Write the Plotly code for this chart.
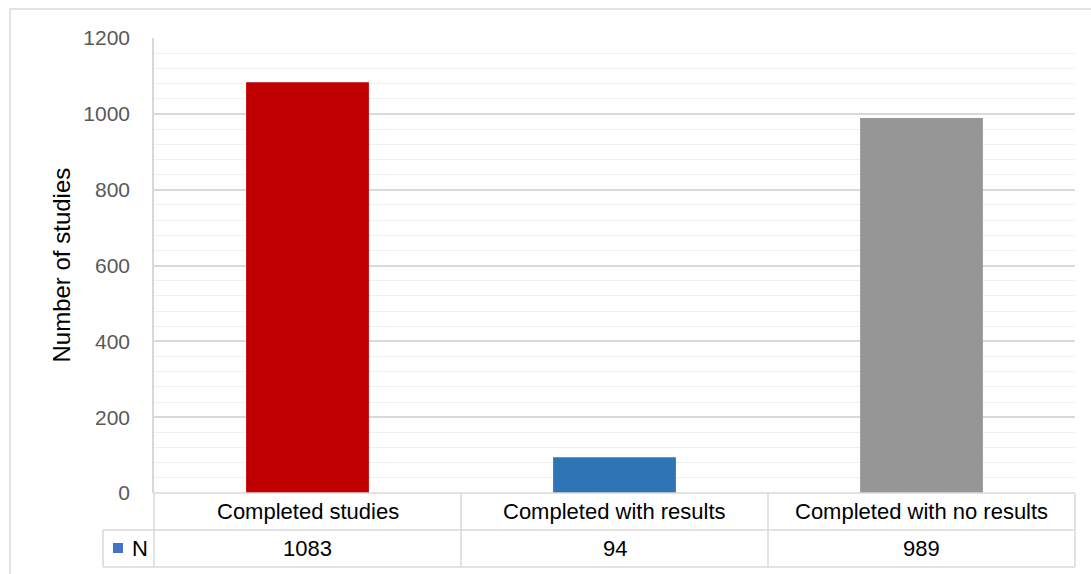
import plotly.graph_objects as go

categories = ["Completed studies", "Completed with results", "Completed with no results"]
values = [1083, 94, 989]
bar_colors = ["#C00000", "#2E75B6", "#969696"]
series_name = "N"
y_title = "Number of studies"

W, H = 1091, 574
L, R, T, B = 154, 16, 38, 81
PW, PH = W - L - R, H - T - B

def xp(px):
    return (px - L) / PW

def yp(py):
    return (H - B - py) / PH

FONT = "Liberation Sans"
fig = go.Figure()
fig.add_trace(go.Bar(x=categories, y=values, marker=dict(color=bar_colors, line=dict(width=0)),
                     name=series_name, showlegend=False))

n = len(categories)
row_h = 37
y0 = H - B
line_col = "#d9d9d9"
shapes = []
shapes.append(dict(type="line", xref="paper", yref="paper", x0=0, x1=1, y0=yp(y0), y1=yp(y0),
                   line=dict(color=line_col, width=1.5)))
legend_left = 103
for k in (1, 2):
    yy = yp(y0 + k * row_h)
    shapes.append(dict(type="line", xref="paper", yref="paper", x0=xp(legend_left), x1=1, y0=yy, y1=yy,
                       line=dict(color=line_col, width=1.5)))
for i in range(n + 1):
    shapes.append(dict(type="line", xref="paper", yref="paper", x0=i / n, x1=i / n,
                       y0=yp(y0), y1=yp(y0 + 2 * row_h), line=dict(color=line_col, width=1.5)))
shapes.append(dict(type="line", xref="paper", yref="paper", x0=xp(legend_left), x1=xp(legend_left),
                   y0=yp(y0 + row_h), y1=yp(y0 + 2 * row_h), line=dict(color=line_col, width=1.5)))
shapes.append(dict(type="rect", xref="paper", yref="paper", x0=xp(113), x1=xp(123),
                   y0=yp(y0 + row_h + 13), y1=yp(y0 + row_h + 23),
                   fillcolor="#4472C4", line=dict(width=0)))
shapes.append(dict(type="rect", xref="paper", yref="paper", x0=xp(10), x1=xp(1100),
                   y0=yp(590), y1=yp(9), line=dict(color=line_col, width=1.5)))

annotations = []
for i, (c, v) in enumerate(zip(categories, values)):
    xc = (i + 0.5) / n
    annotations.append(dict(x=xc, y=yp(y0 + row_h / 2), xref="paper", yref="paper", text=c,
                            showarrow=False, font=dict(family=FONT, size=22, color="#000000"),
                            xanchor="center", yanchor="middle"))
    annotations.append(dict(x=xc, y=yp(y0 + 1.5 * row_h), xref="paper", yref="paper", text=str(v),
                            showarrow=False, font=dict(family=FONT, size=22, color="#000000"),
                            xanchor="center", yanchor="middle"))
annotations.append(dict(x=xp(130), y=yp(y0 + 1.5 * row_h), xref="paper", yref="paper", text=series_name,
                        showarrow=False, font=dict(family=FONT, size=22, color="#000000"),
                        xanchor="left", yanchor="middle"))
annotations.append(dict(x=xp(61), y=0.5, xref="paper", yref="paper", text=y_title, textangle=-90,
                        showarrow=False, font=dict(family=FONT, size=24, color="#000000"),
                        xanchor="center", yanchor="middle"))

fig.update_layout(
    width=W, height=H, margin=dict(l=L, r=R, t=T, b=B),
    paper_bgcolor="white", plot_bgcolor="white",
    bargap=0.6, shapes=shapes, annotations=annotations,
    font=dict(family=FONT),
    xaxis=dict(range=[-0.5, n - 0.5], showticklabels=False, showline=False, showgrid=False,
               zeroline=False, ticks=""),
    yaxis=dict(range=[0, 1200], dtick=200, showgrid=True, gridcolor="#d9d9d9", gridwidth=1.5,
               minor=dict(dtick=40, showgrid=True, gridcolor="#f0f0f0", gridwidth=1),
               showline=True, linecolor=line_col, linewidth=1.5, zeroline=False,
               ticks="", ticklabelstandoff=18,
               tickfont=dict(family=FONT, size=21, color="#595959")),
)
fig.write_html("out.html")
